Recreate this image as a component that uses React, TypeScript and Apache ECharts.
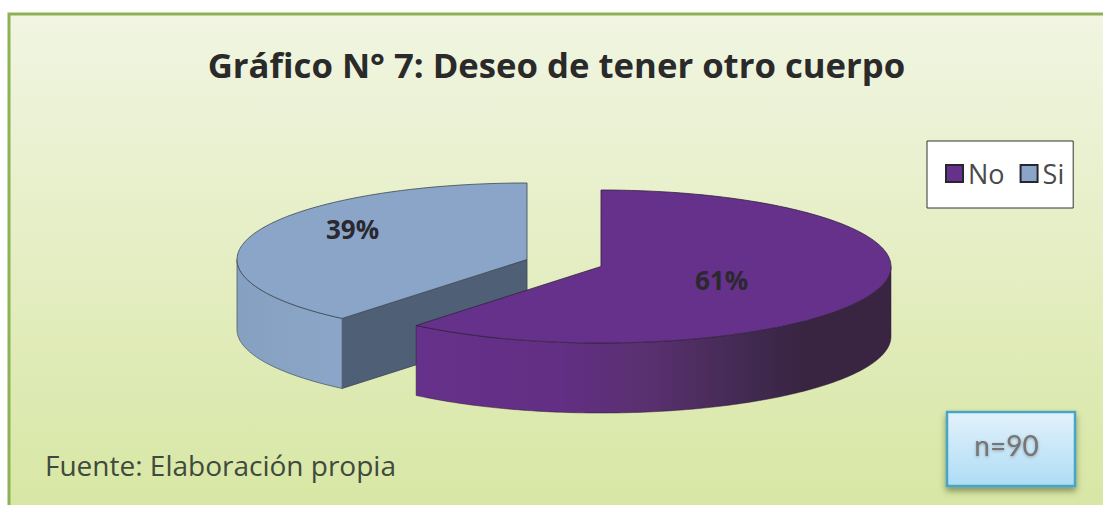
import React, { useEffect, useRef } from "react";
import * as echarts from "echarts";

const categories = ["No", "Si"];
const percentValues = [61, 39];
const sliceColors = ["#66318a", "#8aa5c7"];
const titleText = "Gráfico N° 7: Deseo de tener otro cuerpo";
const sourceText = "Fuente: Elaboración propia";
const sampleText = "n=90";

const CX = 564;
const CY = 263;
const RX = 290;
const RY = 76.5;
const DEPTH = 70;
const EXPLODE = 39.3;
const labelPos: Record<string, [number, number]> = { No: [721.5, 280], Si: [352.5, 229] };

const rad = (d: number) => (d * Math.PI) / 180;

function sliceElements(name: string, startDeg: number, endDeg: number, value: number) {
  const mid = (startDeg + endDeg) / 2;
  const ox = CX + EXPLODE * Math.sin(rad(mid));
  const oy = CY - EXPLODE * Math.cos(rad(mid)) * (RY / RX);
  const pt = (deg: number, dz = 0): number[] => [
    ox + RX * Math.sin(rad(deg)),
    oy - RY * Math.cos(rad(deg)) + dz,
  ];
  const arc = (a: number, b: number, dz = 0) => {
    const n = Math.max(2, Math.ceil(Math.abs(b - a) / 1));
    const out: number[][] = [];
    for (let i = 0; i <= n; i++) out.push(pt(a + ((b - a) * i) / n, dz));
    return out;
  };
  const els: any[] = [];
  const line = { stroke: "#2f2f3a", lineWidth: 0.8 };

  if (name === "Si") {
    const a = [ox, oy];
    const b = pt(startDeg);
    els.push({
      type: "polygon",
      shape: { points: [a, b, [b[0], b[1] + DEPTH], [a[0], a[1] + DEPTH]] },
      style: { fill: "#4f6076", stroke: "#3c4654", lineWidth: 0.8 },
    });
    const top = arc(startDeg, 270);
    const bottom = arc(270, startDeg, DEPTH);
    els.push({
      type: "polygon",
      shape: { points: [...top, ...bottom] },
      style: {
        fill: new echarts.graphic.LinearGradient(0, 0, 1, 0, [
          { offset: 0, color: "#86a0c1" },
          { offset: 1, color: "#8ba6c8" },
        ]),
        stroke: "#4f5a68",
        lineWidth: 0.8,
      },
    });
  } else {
    const top = arc(90, endDeg);
    const bottom = arc(endDeg, 90, DEPTH);
    els.push({
      type: "polygon",
      shape: { points: [...top, ...bottom] },
      style: {
        fill: new echarts.graphic.LinearGradient(0, 0, 1, 0, [
          { offset: 0, color: "#66318a" },
          { offset: 0.3, color: "#622f84" },
          { offset: 0.49, color: "#59306f" },
          { offset: 0.7, color: "#412a50" },
          { offset: 0.82, color: "#392442" },
          { offset: 1, color: "#392442" },
        ]),
        stroke: "#2a1c33",
        lineWidth: 0.5,
      },
    });
  }
  els.push({
    type: "polygon",
    shape: { points: [[ox, oy], ...arc(startDeg, endDeg)] },
    style: { fill: sliceColors[categories.indexOf(name)], ...line, stroke: name === "No" ? "#35203f" : "#3c4654" },
  });
  const [lx, ly] = labelPos[name];
  els.push({
    type: "text",
    style: {
      text: `${value}%`,
      x: lx,
      y: ly,
      align: "center",
      verticalAlign: "middle",
      fill: "#2b2830",
      font: 'bold 26px "Open Sans"',
    },
  });
  return els;
}

function buildOption(): any {
  const total = percentValues.reduce((s, v) => s + v, 0);
  const ranges: Record<string, [number, number, number]> = {};
  let acc = 0;
  categories.forEach((c, i) => {
    const s = (acc / total) * 360;
    acc += percentValues[i];
    ranges[c] = [s, (acc / total) * 360, percentValues[i]];
  });
  const order = ["Si", "No"];
  return {
    animation: false,
    backgroundColor: "#ffffff",
    legend: {
      data: categories.map((name) => ({
        name,
        itemStyle: { borderColor: "#26262e", borderWidth: 2 },
      })),
      left: 927,
      top: 141,
      orient: "horizontal",
      backgroundColor: "#ffffff",
      borderColor: "#333333",
      borderWidth: 1,
      padding: [19, 9, 21, 18],
      itemWidth: 17,
      itemHeight: 17,
      itemGap: 15,
      icon: "rect",
      selectedMode: false,
      textStyle: { fontFamily: "Open Sans", fontSize: 27, color: "#4a4a4a" },
      z: 10,
    },
    graphic: [
      {
        type: "rect",
        z: -10,
        shape: { x: 9, y: 14, width: 1110, height: 510 },
        style: {
          fill: new echarts.graphic.LinearGradient(0, 0, 0, 1, [
            { offset: 0, color: "#f1f5e2" },
            { offset: 1, color: "#d7e6a2" },
          ]),
          stroke: "#8db255",
          lineWidth: 3,
        },
      },
      {
        type: "text",
        z: 5,
        style: {
          text: titleText,
          x: 556.5,
          y: 64,
          align: "center",
          verticalAlign: "middle",
          fill: "#2a2a2a",
          font: 'bold 34.7px "Open Sans"',
        },
      },
      {
        type: "text",
        z: 5,
        style: {
          text: sourceText,
          x: 45,
          y: 465,
          align: "left",
          verticalAlign: "middle",
          fill: "#3f4a3d",
          font: '28px "Open Sans"',
        },
      },
      {
        type: "rect",
        z: 5,
        shape: { x: 947, y: 412, width: 128, height: 74 },
        style: {
          fill: new echarts.graphic.LinearGradient(0, 0, 0, 1, [
            { offset: 0, color: "#e3f2fb" },
            { offset: 1, color: "#aedcf5" },
          ]),
          stroke: "#4aa5c4",
          lineWidth: 2.5,
          shadowBlur: 6,
          shadowOffsetY: 4,
          shadowColor: "rgba(60,80,40,0.55)",
        },
      },
      {
        type: "text",
        z: 6,
        style: {
          text: sampleText,
          x: 1006.5,
          y: 445,
          align: "center",
          verticalAlign: "middle",
          fill: "#757575",
          font: '28px "Lato"',
          textShadowBlur: 3,
          textShadowOffsetY: 1,
          textShadowColor: "rgba(90,90,90,0.5)",
        },
      },
    ],
    series: order.map((name) => ({
      type: "custom",
      name,
      coordinateSystem: "none",
      itemStyle: { color: sliceColors[categories.indexOf(name)] },
      data: [[ranges[name][2]]],
      z: 2,
      renderItem: () => ({
        type: "group",
        children: sliceElements(name, ranges[name][0], ranges[name][1], ranges[name][2]),
      }),
    })),
  };
}

export default function App() {
  const ref = useRef<HTMLDivElement>(null);
  useEffect(() => {
    if (!ref.current) return;
    const chart = echarts.init(ref.current, undefined, { renderer: "svg" });
    chart.setOption(buildOption());
    return () => chart.dispose();
  }, []);
  return <div ref={ref} style={{ width: 1103, height: 505, position: "fixed", left: 0, top: 0 }} />;
}
